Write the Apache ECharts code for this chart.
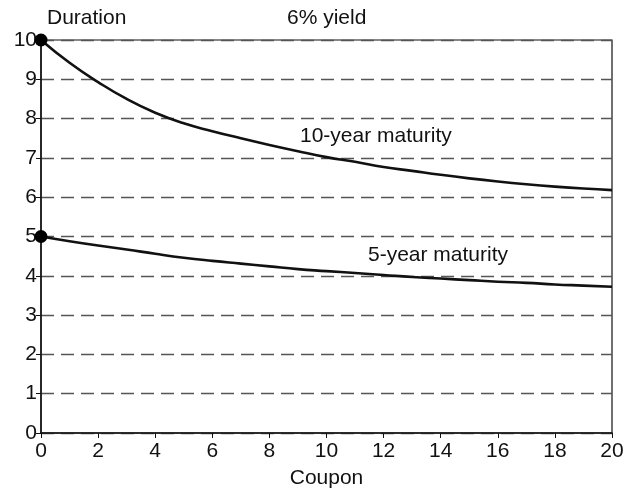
<!DOCTYPE html>
<html>
<head>
<meta charset="utf-8">
<script src="https://cdn.jsdelivr.net/npm/echarts@6/dist/echarts.min.js"></script>
<style>html,body{margin:0;padding:0;background:#fff}#c{width:630px;height:498px}</style>
</head>
<body>
<div id="c"></div>
<script>
const coupons = [0,1,2,3,4,5,6,7,8,9,10,11,12,13,14,15,16,17,18,19,20];
const tenYear = [10,9.42,8.93,8.5,8.15,7.88,7.68,7.5,7.33,7.17,7.02,6.9,6.77,6.67,6.57,6.48,6.4,6.33,6.27,6.22,6.18];
const fiveYear = [5.0,4.88,4.77,4.67,4.56,4.46,4.38,4.31,4.24,4.17,4.12,4.07,4.02,3.97,3.93,3.89,3.85,3.82,3.78,3.75,3.72];
const yTicks = [0,1,2,3,4,5,6,7,8,9,10];
const xTicks = [0,2,4,6,8,10,12,14,16,18,20];
const labels = {title:'6% yield', yName:'Duration', xName:'Coupon', s10:'10-year maturity', s5:'5-year maturity'};

const FONT = 'Liberation Sans, Arial, Helvetica, sans-serif';
const FS = 21;
const chart = echarts.init(document.getElementById('c'), null, {renderer:'canvas'});
chart.setOption({
  animation:false,
  backgroundColor:'#fff',
  grid:{left:41,right:18,top:40,bottom:65,outerBoundsMode:'none',containLabel:false,show:true,borderColor:'#111',borderWidth:1.2,backgroundColor:'transparent'},
  xAxis:{type:'value',min:xTicks[0],max:xTicks[xTicks.length-1],interval:2,
    name:labels.xName,nameLocation:'middle',nameGap:35,
    nameTextStyle:{fontFamily:FONT,fontSize:FS,color:'#111'},
    axisLine:{show:true,onZero:false,lineStyle:{color:'#111',width:1.5}},
    axisTick:{show:true,length:5,inside:false,lineStyle:{color:'#111'}},
    axisLabel:{margin:8,fontFamily:FONT,fontSize:FS,color:'#111'},
    splitLine:{show:false}},
  yAxis:{type:'value',min:yTicks[0],max:yTicks[yTicks.length-1],interval:1,
    axisLine:{show:true,onZero:false,lineStyle:{color:'#111',width:1.5}},
    axisTick:{show:true,length:5,lineStyle:{color:'#111'}},
    axisLabel:{margin:4,fontFamily:FONT,fontSize:FS,color:'#111'},
    splitLine:{show:true,lineStyle:{color:'#555',width:1.3,type:[13,7]}}},
  graphic:[
    {type:'text',left:47,top:8,style:{text:labels.yName,font:FS+'px '+FONT,fill:'#111'}},
    {type:'text',left:287,top:8,style:{text:labels.title,font:FS+'px '+FONT,fill:'#111'}},
    {type:'text',left:300,top:126,style:{text:labels.s10,font:FS+'px '+FONT,fill:'#111'}},
    {type:'text',left:368,top:245,style:{text:labels.s5,font:FS+'px '+FONT,fill:'#111'}}
  ],
  series:[
    {type:'line',data:coupons.map((c,i)=>[c,tenYear[i]]),smooth:true,showSymbol:false,
      lineStyle:{color:'#111',width:2.6},z:3},
    {type:'line',data:coupons.map((c,i)=>[c,fiveYear[i]]),smooth:true,showSymbol:false,
      lineStyle:{color:'#111',width:2.6},z:3},
    {type:'scatter',data:[[coupons[0],tenYear[0]],[coupons[0],fiveYear[0]]],symbolSize:13,
      itemStyle:{color:'#000',opacity:1},z:4,clip:false}
  ]
});
</script>
</body>
</html>
